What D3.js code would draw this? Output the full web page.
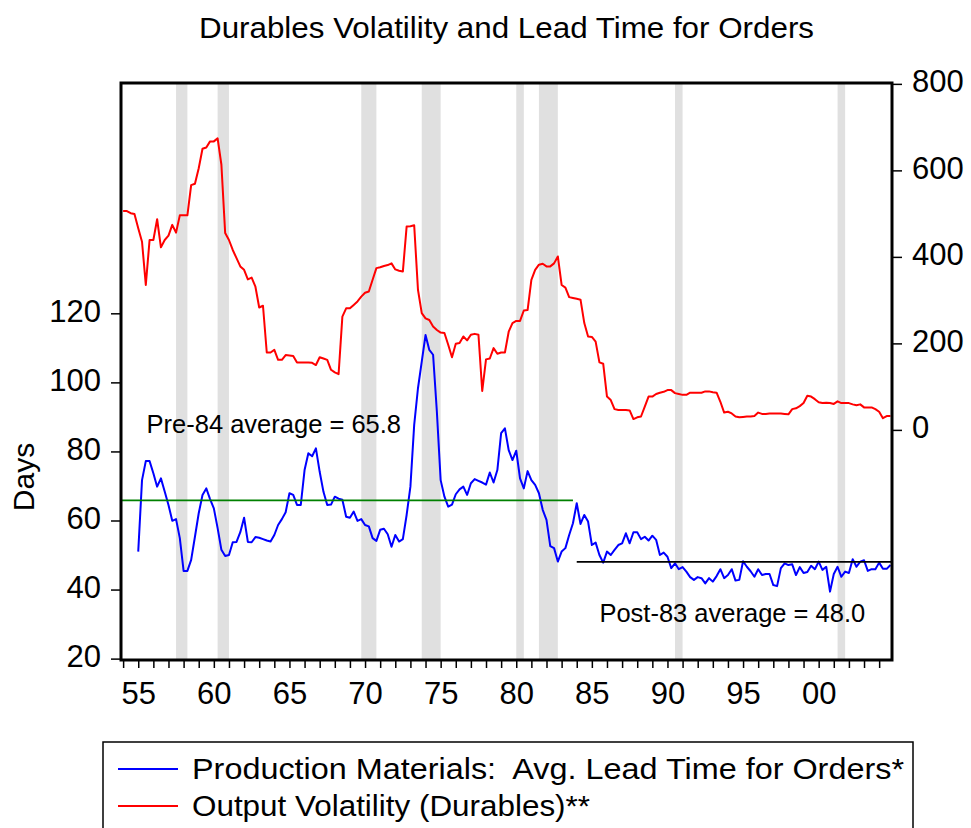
<!DOCTYPE html>
<html>
<head>
<meta charset="utf-8">
<script src="https://cdnjs.cloudflare.com/ajax/libs/d3/7.8.5/d3.min.js"></script>
<style>
    body { margin: 0; background: #fff; }
    #chart-area { width: 971px; height: 828px; }
    text { font-family: "Liberation Sans", Arial, sans-serif; fill: #000; white-space: pre; }
</style>
</head>
<body>
<div id="chart-area"></div>
<script>

// blue series: avg. lead time for production materials (days), quarterly from 1955Q1
const leadTimeStart = 1955;
const leadTime = [
    51.0, 71.7, 77.2, 77.2,   73.7, 69.8, 72.2, 68.4,   64.5, 59.9, 60.4, 54.9,
    45.4, 45.4, 48.6, 55.3,   62.1, 67.4, 69.3, 66.2,   63.5, 57.8, 51.5, 49.7,
    50.0, 53.7, 53.8, 56.6,   60.8, 53.8, 53.7, 55.2,   55.0, 54.6, 54.2, 53.9,
    55.8, 58.7, 60.4, 62.4,   67.9, 67.4, 64.5, 64.5,   74.6, 79.5, 78.6, 80.9,
    74.1, 68.3, 64.5, 64.6,   66.9, 66.3, 66.0, 61.1,   60.8, 62.6, 59.9, 60.4,
    58.7, 58.3, 54.9, 54.1,   57.3, 57.6, 56.0, 52.4,   55.8, 53.9, 54.6, 61.6,
    69.8, 87.7, 98.3, 106.0,  113.7, 109.4, 108.0, 91.5, 71.7, 66.9, 64.0, 64.6,
    67.6, 69.0, 69.8, 67.4,   70.8, 72.0, 71.5, 71.0,   70.4, 73.9, 71.0, 74.6,
    85.3, 86.7, 80.4, 77.5,   80.2, 72.2, 69.3, 74.3,   71.7, 70.3, 67.9, 63.1,
    60.2, 52.6, 52.0, 48.1,   51.0, 52.0, 55.8, 59.2,   65.0, 59.0, 61.6, 59.7,
    52.9, 53.6, 50.0, 47.8,   51.0, 50.0, 51.5, 52.9,   53.4, 56.3, 53.4, 56.6,
    56.6, 54.6, 55.3, 54.2,   55.6, 54.4, 50.0, 50.7,   49.5, 46.2, 47.6, 45.9,
    46.5, 45.2, 43.6, 42.8,   43.6, 43.3, 41.8, 43.3,   42.3, 43.9, 45.9, 43.3,
    44.2, 45.9, 42.6, 42.8,   48.2, 46.6, 45.3, 43.7,   45.9, 44.2, 44.5, 44.5,
    41.3, 41.0, 46.2, 47.6,   47.1, 47.3, 44.2, 46.5,   44.8, 45.1, 46.9, 45.9,
    48.1, 45.7, 46.6, 39.4,   44.5, 46.6, 43.7, 45.2,   44.8, 48.8, 46.6, 48.1,
    48.5, 45.4, 45.9, 45.9,   47.8, 46.0, 46.0, 47.1
];

// red series: output volatility (durables), quarterly from 1954Q1, right axis
const volatilityStart = 1954;
const volatility = [
    506, 506, 501, 499,   466, 435, 335, 439,   439, 487, 422, 439,   449, 474, 456, 496,
    496, 496, 566, 569,   605, 650, 653, 667,   667, 674, 613, 455,   439, 416, 397, 378,
    370, 348, 352, 331,   283, 287, 179, 179,   185, 162, 162, 173,   172, 171, 156, 156,
    156, 156, 155, 150,   168, 165, 162, 139,   133, 129, 262, 281,   281, 289, 297, 308,
    317, 320, 347, 374,   376, 379, 381, 385,   371, 368, 366, 470,   471, 473, 324, 270,
    258, 254, 239, 231,   225, 224, 197, 168,   199, 201, 216, 207,   220, 222, 220, 90,
    163, 165, 189, 176,   179, 179, 227, 247,   252, 252, 276, 277,   347, 370, 382, 384,
    378, 378, 385, 401,   335, 329, 307, 305,   303, 301, 247, 216,   215, 204, 156, 153,
    77, 69, 48, 46,       46, 46, 45, 25,       29, 31, 54, 77,       77, 83, 86, 88,
    92, 92, 85, 83,       81, 81, 86, 86,       86, 86, 89, 89,       87, 86, 65, 40,
    42, 38, 31, 29,       30, 31, 31, 32,       40, 37, 37, 38,       38, 38, 38, 37,
    36, 48, 50, 55,       62, 79, 77, 71,       64, 62, 63, 62,       60, 66, 62, 62,
    62, 59, 57, 59,       52, 52, 52, 48,       42, 27, 32, 32
];

// recession shading (peak, trough)
const recessions = [
    [1957.5, 1958.25], [1960.25, 1961.0], [1969.75, 1970.75], [1973.75, 1975.0],
    [1980.0, 1980.5], [1981.5, 1982.75], [1990.5, 1991.0], [2001.25, 2001.75]
];

// sub-period averages of lead time
const averages = [
    {label: "Pre-84 average = 65.8", value: 65.8, from: 1953.86, to: 1983.75, color: "#008000"},
    {label: "Post-83 average = 48.0", value: 48.0, from: 1984.0, to: 2004.85, color: "#000000"}
];

const leftTicks = [20, 40, 60, 80, 100, 120];
const rightTicks = [0, 200, 400, 600, 800];
const yearTicks = d3.range(1954, 2005);
const labelYears = [1955, 1960, 1965, 1970, 1975, 1980, 1985, 1990, 1995, 2000];
const labelTexts = ["55", "60", "65", "70", "75", "80", "85", "90", "95", "00"];

const legendItems = [
    {label: "Production Materials:  Avg. Lead Time for Orders*", color: "#0000ff", length: 712},
    {label: "Output Volatility (Durables)**", color: "#ff0000", length: 398}
];


// constructor
leadVis = function(_parentElement) {
    this.parentElement = _parentElement;

    this.initVis();
};


// init leadVis
leadVis.prototype.initVis = function() {
    let vis = this;

    vis.margin = {top: 83, right: 79, bottom: 168, left: 121};
    vis.width = 971 - vis.margin.left - vis.margin.right;
    vis.height = 828 - vis.margin.top - vis.margin.bottom;

    vis.root = d3.select("#" + vis.parentElement).append("svg")
        .attr("width", 971)
        .attr("height", 828);

    vis.svg = vis.root.append("g")
        .attr("transform", `translate(${vis.margin.left}, ${vis.margin.top})`);

    vis.x = d3.scaleLinear().domain([1953.86, 2004.85]).range([0, vis.width]);
    vis.yLeft = d3.scaleLinear().domain([19.6, 186.7]).range([vis.height, 0]);
    vis.yRight = d3.scaleLinear().domain([-532, 802]).range([vis.height, 0]);

    vis.wrangleData();
};


// wrangle data
leadVis.prototype.wrangleData = function() {
    let vis = this;

    vis.blue = leadTime.map((v, i) => ({year: leadTimeStart + i / 4, value: v}));
    vis.red = volatility.map((v, i) => ({year: volatilityStart + i / 4, value: v}));

    vis.updateVis();
};


// draw
leadVis.prototype.updateVis = function() {
    let vis = this;

    // recession bars
    vis.svg.selectAll(".recession")
        .data(recessions)
        .enter()
        .append("rect")
        .attr("class", "recession")
        .attr("x", d => vis.x(d[0]))
        .attr("width", d => vis.x(d[1]) - vis.x(d[0]))
        .attr("y", 0)
        .attr("height", vis.height)
        .attr("fill", "#e0e0e0");

    const redLine = d3.line()
        .x(d => vis.x(d.year))
        .y(d => vis.yRight(d.value));

    const blueLine = d3.line()
        .x(d => vis.x(d.year))
        .y(d => vis.yLeft(d.value));

    vis.svg.append("path")
        .datum(vis.red)
        .attr("d", redLine)
        .attr("fill", "none")
        .attr("stroke", "#ff0000")
        .attr("stroke-width", 2)
        .attr("stroke-linejoin", "round");

    vis.svg.append("path")
        .datum(vis.blue)
        .attr("d", blueLine)
        .attr("fill", "none")
        .attr("stroke", "#0000ff")
        .attr("stroke-width", 2)
        .attr("stroke-linejoin", "round");

    // average lines
    vis.svg.selectAll(".avg")
        .data(averages)
        .enter()
        .append("line")
        .attr("class", "avg")
        .attr("x1", d => vis.x(d.from))
        .attr("x2", d => vis.x(d.to))
        .attr("y1", d => vis.yLeft(d.value))
        .attr("y2", d => vis.yLeft(d.value))
        .attr("stroke", d => d.color)
        .attr("stroke-width", 1.8);

    vis.svg.append("text")
        .attr("x", vis.x(1955.55))
        .attr("y", vis.yLeft(85.4))
        .style("font-size", "25.5px")
        .text(averages[0].label);

    vis.svg.append("text")
        .attr("x", vis.x(1985.5))
        .attr("y", vis.yLeft(30.6))
        .style("font-size", "25.5px")
        .text(averages[1].label);

    // frame
    vis.svg.append("rect")
        .attr("width", vis.width)
        .attr("height", vis.height)
        .attr("fill", "none")
        .attr("stroke", "#000")
        .attr("stroke-width", 3);

    // axes
    const xAxis = d3.axisBottom(vis.x)
        .tickValues(yearTicks)
        .tickSize(8)
        .tickPadding(14)
        .tickFormat(d => {
            let k = labelYears.indexOf(d);
            return k < 0 ? "" : labelTexts[k];
        });

    const leftAxis = d3.axisLeft(vis.yLeft)
        .tickValues(leftTicks)
        .tickSize(10)
        .tickPadding(10);

    const rightAxis = d3.axisRight(vis.yRight)
        .tickValues(rightTicks)
        .tickSize(10)
        .tickPadding(10);

    [
        vis.svg.append("g").attr("transform", `translate(0, ${vis.height})`).call(xAxis),
        vis.svg.append("g").call(leftAxis),
        vis.svg.append("g").attr("transform", `translate(${vis.width}, 0)`).call(rightAxis)
    ].forEach(g => {
        g.select(".domain").remove();
        g.selectAll(".tick line").attr("stroke", "#000").attr("stroke-width", 1.5);
        g.selectAll(".tick text")
            .style("font-family", '"Liberation Sans", Arial, sans-serif')
            .style("font-size", "31px")
            .attr("fill", "#000");
    });
    vis.svg.selectAll(".tick text").filter(function() { return this.getAttribute("dy") === "0.32em"; })
        .attr("dy", "0.26em");

    // titles
    vis.root.append("text")
        .attr("x", vis.margin.left + vis.width / 2)
        .attr("y", 38)
        .attr("text-anchor", "middle")
        .attr("textLength", 615)
        .attr("lengthAdjust", "spacingAndGlyphs")
        .style("font-size", "30px")
        .text("Durables Volatility and Lead Time for Orders");

    vis.root.append("text")
        .attr("transform", "translate(34, 477) rotate(-90)")
        .attr("text-anchor", "middle")
        .style("font-size", "30px")
        .text("Days");

    // legend
    let legend = vis.root.append("g")
        .attr("transform", "translate(103, 742)");

    legend.append("rect")
        .attr("width", 810)
        .attr("height", 120)
        .attr("fill", "#fff")
        .attr("stroke", "#000")
        .attr("stroke-width", 1.5);

    let rows = legend.selectAll(".legend-row")
        .data(legendItems)
        .enter()
        .append("g")
        .attr("class", "legend-row")
        .attr("transform", (d, i) => `translate(0, ${27 + i * 37})`);

    rows.append("line")
        .attr("x1", 15)
        .attr("x2", 75)
        .attr("stroke", d => d.color)
        .attr("stroke-width", 2);

    rows.append("text")
        .attr("x", 89)
        .attr("y", 10)
        .attr("textLength", d => d.length)
        .attr("lengthAdjust", "spacingAndGlyphs")
        .style("font-size", "30px")
        .text(d => d.label);
};

new leadVis("chart-area");

</script>
</body>
</html>
